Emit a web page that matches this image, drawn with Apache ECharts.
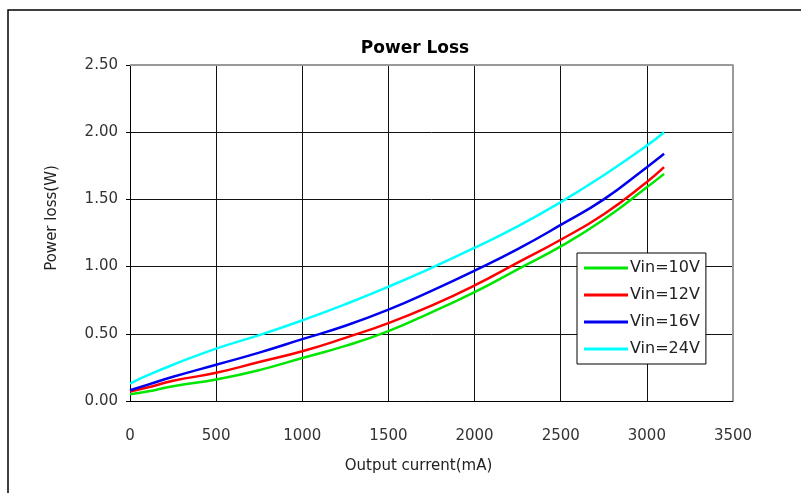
<!DOCTYPE html>
<html>
<head>
<meta charset="utf-8">
<script src="https://cdn.jsdelivr.net/npm/echarts@6/dist/echarts.min.js"></script>
<style>
  html, body { margin: 0; padding: 0; background: #fff; }
  #main { width: 801px; height: 493px; }
</style>
</head>
<body>
<div id="main"></div>
<script>
// output current (mA)
const current = [0, 100, 250, 500, 750, 1000, 1250, 1500, 1750, 2000, 2250, 2500, 2750, 3000, 3100];

// power loss (W) per input voltage
const vin10 = [0.05, 0.07, 0.11, 0.16, 0.23, 0.32, 0.41, 0.52, 0.66, 0.81, 0.98, 1.15, 1.35, 1.59, 1.69];
const vin12 = [0.07, 0.10, 0.15, 0.21, 0.29, 0.37, 0.47, 0.58, 0.71, 0.86, 1.03, 1.20, 1.39, 1.63, 1.74];
const vin16 = [0.08, 0.12, 0.18, 0.27, 0.36, 0.46, 0.56, 0.68, 0.82, 0.97, 1.13, 1.31, 1.50, 1.74, 1.84];
const vin24 = [0.13, 0.19, 0.27, 0.39, 0.49, 0.60, 0.72, 0.85, 0.99, 1.14, 1.30, 1.48, 1.68, 1.90, 2.00];

const seriesNames = ['Vin=10V', 'Vin=12V', 'Vin=16V', 'Vin=24V'];
const seriesColors = ['#00e600', '#ff0000', '#0000ee', '#00ffff'];
const seriesData = [vin10, vin12, vin16, vin24];

const font = 'DejaVu Sans';

const chart = echarts.init(document.getElementById('main'));

const series = seriesNames.map((name, i) => ({
  name: name,
  type: 'line',
  data: current.map((x, j) => [x, seriesData[i][j]]),
  showSymbol: false,
  smooth: 0.5,
  lineStyle: { width: 2.5, color: seriesColors[i] },
  itemStyle: { color: seriesColors[i] }
}));

chart.setOption({
  animation: false,
  title: {
    text: 'Power Loss',
    left: 410,
    top: 35,
    textAlign: 'center',
    textStyle: { fontFamily: font, fontSize: 17, fontWeight: 'bold', color: '#000' }
  },
  graphic: [{
    // outer frame (only left and top edges are inside the picture)
    type: 'rect',
    shape: { x: 8, y: 10, width: 1000, height: 1000 },
    style: { fill: 'none', stroke: '#000', lineWidth: 1.5 },
    silent: true
  }],
  legend: {
    orient: 'vertical',
    left: 577,
    top: 253,
    itemWidth: 44,
    itemHeight: 3,
    itemGap: 11,
    padding: [7, 6, 7, 7],
    backgroundColor: '#fff',
    borderColor: '#000',
    borderWidth: 1,
    borderRadius: 0,
    icon: 'rect',
    textStyle: { fontFamily: font, fontSize: 16, color: '#222', padding: [0, 0, 0, -3] },
    data: seriesNames
  },
  grid: { left: 130, right: 68, top: 65, bottom: 92 },
  xAxis: {
    type: 'value',
    min: 0,
    max: 3500,
    interval: 500,
    name: 'Output current(mA)',
    nameLocation: 'middle',
    nameGap: 58,
    nameTextStyle: { fontFamily: font, fontSize: 15, color: '#222', padding: [0, 26, 0, 0] },
    axisLine: { lineStyle: { color: '#000', width: 1 } },
    axisTick: { show: false },
    axisLabel: {
      fontFamily: font, fontSize: 15, color: '#333', margin: 28,
      formatter: v => String(v)
    },
    splitLine: { lineStyle: { color: '#111', width: 1 } }
  },
  yAxis: {
    type: 'value',
    min: 0,
    max: 2.5,
    interval: 0.5,
    name: 'Power loss(W)',
    nameLocation: 'middle',
    nameGap: 70,
    nameTextStyle: { fontFamily: font, fontSize: 15, color: '#222', padding: [0, 0, 0, 30] },
    axisLine: { show: true, lineStyle: { color: '#000', width: 1 } },
    axisTick: { show: true, length: 4, lineStyle: { color: '#000' } },
    axisLabel: {
      fontFamily: font, fontSize: 15, color: '#333', margin: 12,
      formatter: v => v.toFixed(2)
    },
    splitLine: { lineStyle: { color: '#111', width: 1 } }
  },
  series: series.concat([{
    // grey right/top border of the plot area
    type: 'line',
    data: [[0, 2.5], [3500, 2.5], [3500, 0]],
    showSymbol: false,
    silent: true,
    lineStyle: { color: '#999', width: 2 },
    z: 1
  }])
});
</script>
</body>
</html>
